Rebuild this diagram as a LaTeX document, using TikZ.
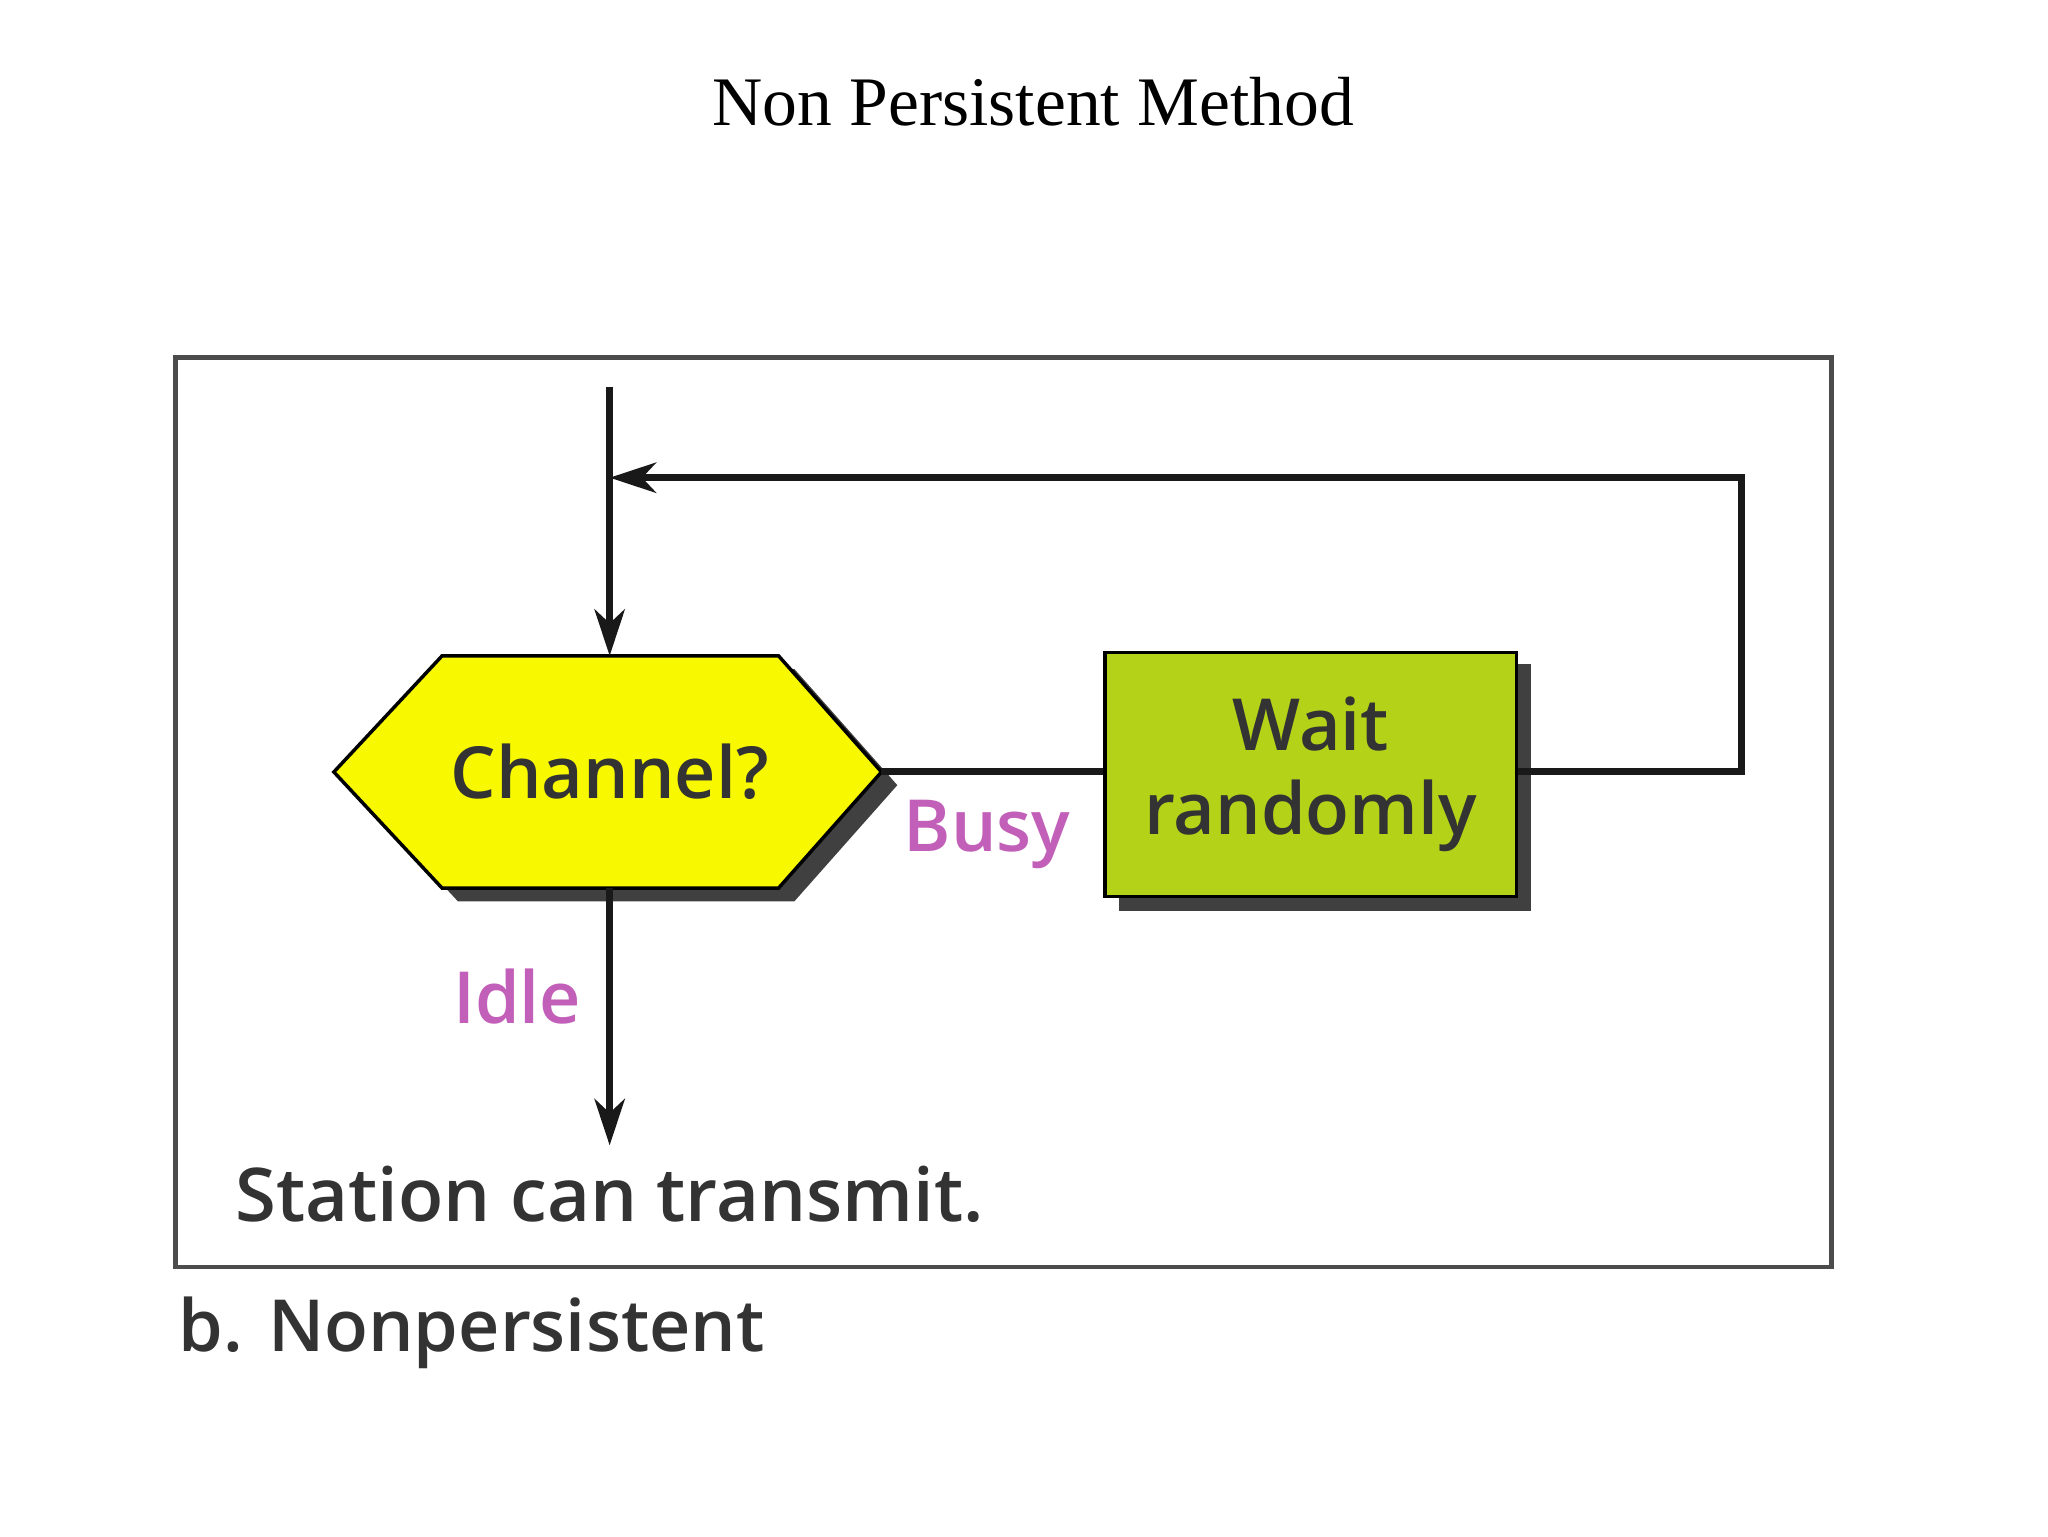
\documentclass[tikz,border=0pt]{standalone}
\usepackage{fontspec}
\setmainfont{Liberation Serif}
\newfontfamily\sans{Open Sans Semibold}
\usetikzlibrary{arrows.meta,shapes.geometric}
\definecolor{hexy}{HTML}{F8F800}
\definecolor{boxg}{HTML}{B4D318}
\definecolor{lab}{HTML}{C25FB8}
\begin{document}
\begin{tikzpicture}[x=0.02cm,y=-0.02cm,
  conn/.style={line width=3pt,black!90},
  tip/.style={-{Stealth[length=20pt,width=13pt,inset=6pt]}},
  txt/.style={font=\sans\fontsize{31}{36}\selectfont,text=black!80}]
\useasboundingbox (0,0) rectangle (1552,1164);
\fill[white] (0,0) rectangle (1552,1164);
\node (title) at (783,77) {\fontsize{30}{34}\selectfont Non Persistent Method};
\draw[line width=2pt,black!70] (133,271) rectangle (1388,960);
% shadows
\fill[black!75] (265,595)--(347,507)--(602,507)--(680,595)--(602,683)--(347,683)--cycle;
\fill[black!75] (848,503) rectangle (1160,690);
% shapes
\draw[fill=hexy,line width=1.5pt] (253,585)--(335,497)--(590,497)--(668,585)--(590,673)--(335,673)--cycle;
\node[txt] (ch) at (462,585) {Channel?};
\coordinate (htop) at (462,497);
\coordinate (hbot) at (462,673);
\coordinate (hright) at (668,585);
\node[draw,line width=1.5pt,fill=boxg,inner sep=0pt,
  anchor=north west,minimum width=6.24cm,minimum height=3.7cm,align=center,txt] (wait) at (836,493) {Wait\\randomly};
\coordinate (start) at (462,293);
\coordinate (c1) at (1320,585);
\coordinate (c2) at (1320,362);
\coordinate (merge) at (462,362);
\coordinate (endpt) at (462,868);
\draw[conn,tip] (start) -- (htop);
\draw[conn] (hright) -- (wait.west |- hright);
\draw[conn,tip] (wait.east |- c1) -- (c1) -- (c2) -- (merge);
\draw[conn,tip] (hbot) -- (endpt);
\node[txt,text=lab] (busy) at (748,632) {Busy};
\node[txt,text=lab] (idle) at (392,755) {Idle};
\node[txt,font=\sans\fontsize{32}{36}\selectfont] (st) at (462,905) {Station can transmit.};
\node[txt,font=\sans\fontsize{31}{36}\selectfont,anchor=west,inner sep=0pt] (cap) at (135,1010) {b. Nonpersistent};
\end{tikzpicture}
\end{document}
